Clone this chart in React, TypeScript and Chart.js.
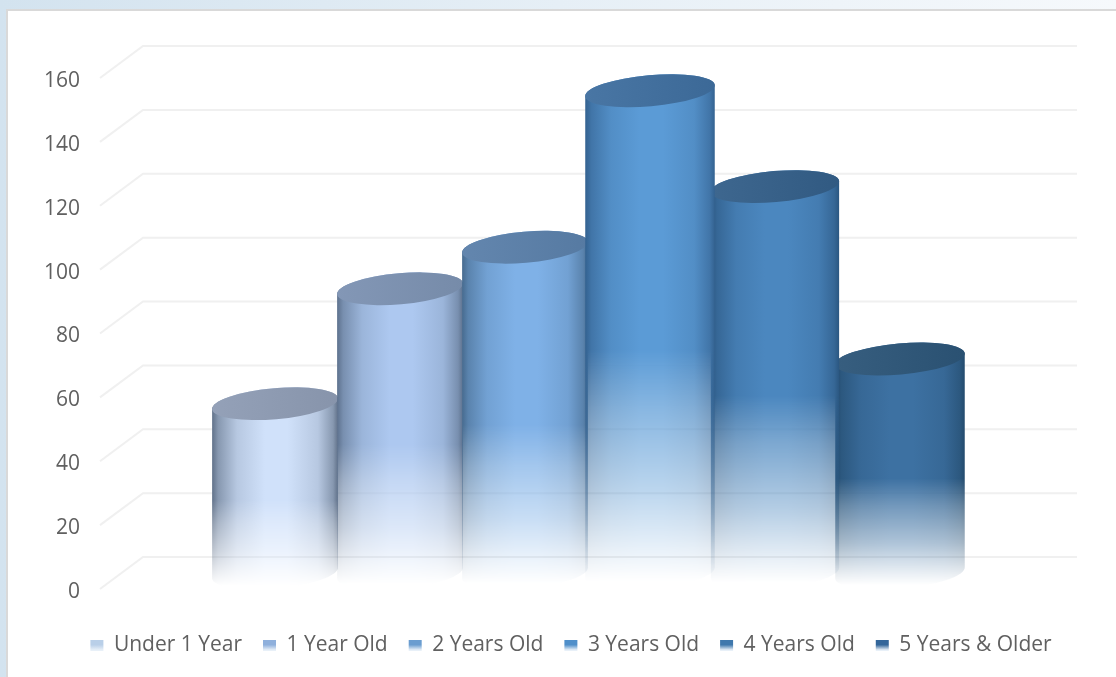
import React, { useEffect, useRef } from "react";
import { Chart, registerables } from "chart.js";

Chart.register(...registerables);

const categories = ["Age"];
const seriesNames = ["Under 1 Year", "1 Year Old", "2 Years Old", "3 Years Old", "4 Years Old", "5 Years & Older"];
const seriesValues = [53, 89, 102, 151, 121, 67];
const barScales = [1.01, 1.01, 1.01, 1.04, 1.03, 1.04];
const faceColors = ["#d0e1fa", "#adc8f0", "#7fb1e7", "#5b9bd6", "#4b87bf", "#3d71a2"];
const edgeColors = ["#5f7088", "#5c708c", "#466a8e", "#33618f", "#2a5680", "#234a6c"];
const capColors = ["#8e9cb4", "#7c92b2", "#5b80aa", "#3f6f9f", "#345f89", "#2c5578"];
const legendColors = ["#b9cfe8", "#8fb0dc", "#6a9dd0", "#4f8fca", "#3f78ad", "#33669a"];

const DEPTH_X = 43;
const DEPTH_Y = 32;
const BACK_RIGHT = 1077;
const TILT = (5 * Math.PI) / 180;
const CAP_RY = 15.5;
const LABEL_DROP = 3;

const mix = (a: string, b: string, t: number) => {
  const p = (h: string) => [1, 3, 5].map((k) => parseInt(h.slice(k, k + 2), 16));
  const pa = p(a);
  const pb = p(b);
  return `rgb(${pa.map((v, i) => Math.round(v + (pb[i] - v) * t)).join(",")})`;
};

const scenePlugin = {
  id: "scene",
  beforeDraw(chart: any) {
    const { ctx, width, height } = chart;
    const g = ctx.createLinearGradient(0, 0, width, 0);
    g.addColorStop(0, "#d3e3ef");
    g.addColorStop(0.5, "#e6eff6");
    g.addColorStop(1, "#f6f9fc");
    ctx.save();
    ctx.fillStyle = g;
    ctx.fillRect(0, 0, width, height);
    ctx.fillStyle = "#d9d9d9";
    ctx.fillRect(6, 9, width - 6, height - 9);
    ctx.fillStyle = "#ffffff";
    ctx.fillRect(8, 11, width - 8, height - 11);
    ctx.restore();
  },
  beforeDatasetsDraw(chart: any) {
    const { ctx } = chart;
    const y = chart.scales.y;
    ctx.save();
    ctx.strokeStyle = "#f0f0f0";
    ctx.lineWidth = 2;
    y.ticks.forEach((t: any) => {
      const py = y.getPixelForValue(t.value) - LABEL_DROP;
      const left = chart.chartArea.left;
      ctx.beginPath();
      ctx.moveTo(left, py);
      ctx.lineTo(left + DEPTH_X, py - DEPTH_Y);
      ctx.lineTo(BACK_RIGHT, py - DEPTH_Y);
      ctx.stroke();
    });
    ctx.restore();
  },
  afterDatasetsDraw(chart: any) {
    const { ctx, width, height } = chart;
    [0, 1, 2, 5, 4, 3].forEach((i) => {
      const bar = chart.getDatasetMeta(i).data[0] as any;
      const cx = bar.x + DEPTH_X / 2;
      const rx = bar.width / 2;
      const topY = bar.y - DEPTH_Y / 2 - LABEL_DROP;
      const baseY = bar.base - DEPTH_Y / 2 - LABEL_DROP;

      const off = document.createElement("canvas");
      off.width = width;
      off.height = height;
      const o = off.getContext("2d") as CanvasRenderingContext2D;
      const side = o.createLinearGradient(cx - rx, 0, cx + rx, 0);
      const f = faceColors[i];
      const e = edgeColors[i];
      side.addColorStop(0, mix(f, e, 1));
      side.addColorStop(0.05, mix(f, e, 0.65));
      side.addColorStop(0.2, mix(f, e, 0.22));
      side.addColorStop(0.42, f);
      side.addColorStop(0.6, f);
      side.addColorStop(0.84, mix(f, e, 0.22));
      side.addColorStop(0.96, mix(f, e, 0.65));
      side.addColorStop(1, mix(f, e, 1));
      o.fillStyle = side;
      o.beginPath();
      o.ellipse(cx, baseY, rx, CAP_RY, -TILT, 0, Math.PI);
      o.ellipse(cx, topY, rx, CAP_RY, -TILT, Math.PI, Math.PI * 2);
      o.closePath();
      o.fill();

      const mask = o.createLinearGradient(0, topY, 0, baseY + CAP_RY);
      mask.addColorStop(0, "rgba(0,0,0,1)");
      mask.addColorStop(0.52, "rgba(0,0,0,1)");
      mask.addColorStop(0.64, "rgba(0,0,0,0.72)");
      mask.addColorStop(0.8, "rgba(0,0,0,0.42)");
      mask.addColorStop(0.92, "rgba(0,0,0,0.14)");
      mask.addColorStop(0.985, "rgba(0,0,0,0)");
      o.globalCompositeOperation = "destination-in";
      o.fillStyle = mask;
      o.fillRect(0, 0, width, height);
      ctx.drawImage(off, 0, 0);

      ctx.save();
      const cap = ctx.createLinearGradient(cx - rx, 0, cx + rx, 0);
      cap.addColorStop(0, mix(capColors[i], "#ffffff", 0.05));
      cap.addColorStop(1, mix(capColors[i], "#000000", 0.05));
      ctx.fillStyle = cap;
      ctx.beginPath();
      ctx.ellipse(cx, topY, rx, CAP_RY, -TILT, 0, Math.PI * 2);
      ctx.fill();
      ctx.restore();
    });
  },
};

export default function App() {
  const ref = useRef<HTMLCanvasElement>(null);
  useEffect(() => {
    const canvas = ref.current as HTMLCanvasElement;
    const chart = new Chart(canvas, {
      type: "bar",
      data: {
        labels: categories,
        datasets: seriesNames.map((name, i) => ({
          label: name,
          data: [seriesValues[i]],
          backgroundColor: "rgba(0,0,0,0)",
          borderWidth: 0,
          barPercentage: barScales[i],
          categoryPercentage: 0.8047,
        })),
      },
      options: {
        responsive: false,
        animation: false,
        layout: { padding: { left: 26, top: 81, right: 0, bottom: 11 } },
        plugins: {
          tooltip: { enabled: false },
          title: { display: false },
          legend: {
            display: true,
            position: "bottom",
            labels: {
              boxWidth: 13,
              boxHeight: 11,
              padding: 21,
              color: "#606060",
              font: { family: "'Open Sans'", size: 21 },
              generateLabels: (c: any) =>
                seriesNames.map((name, i) => {
                  const g = c.ctx.createLinearGradient(0, 637, 0, 650);
                  g.addColorStop(0, legendColors[i]);
                  g.addColorStop(0.6, legendColors[i]);
                  g.addColorStop(1, "#e8f0f8");
                  return {
                    text: name,
                    fillStyle: g,
                    strokeStyle: "rgba(0,0,0,0)",
                    lineWidth: 0,
                    fontColor: "#606060",
                    datasetIndex: i,
                  };
                }),
            },
          },
        },
        scales: {
          x: {
            display: true,
            grid: { display: false },
            border: { display: false },
            ticks: { display: false },
            afterFit: (s: any) => {
              s.height = 22;
            },
          },
          y: {
            min: 0,
            max: 160,
            grid: { display: false },
            border: { display: false },
            ticks: {
              stepSize: 20,
              padding: 12,
              color: "#606060",
              font: { family: "'Open Sans'", size: 21 },
            },
            afterFit: (s: any) => {
              s.width = 74;
            },
          },
          r2: {
            type: "linear",
            position: "right",
            display: true,
            min: 0,
            max: 1,
            grid: { display: false },
            border: { display: false },
            ticks: { display: false },
            afterFit: (s: any) => {
              s.width = 84;
            },
          },
        },
      } as any,
      plugins: [scenePlugin],
    });
    return () => chart.destroy();
  }, []);
  return (
    <div style={{ position: "fixed", left: 0, top: 0, width: 1116, height: 677 }}>
      <canvas ref={ref} width={1116} height={677} style={{ display: "block" }} />
    </div>
  );
}
